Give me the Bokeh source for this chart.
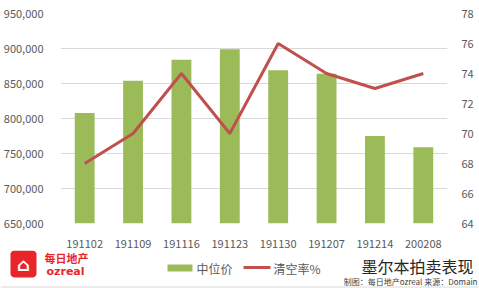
import numpy as np
from bokeh.plotting import figure
from bokeh.layouts import column
from bokeh.models import (Range1d, LinearAxis, FactorRange, NumeralTickFormatter,
                          FixedTicker, ColumnDataSource)
from bokeh.embed import file_html
from bokeh.resources import INLINE
from bokeh.core.properties import value

weeks = ["191102", "191109", "191116", "191123", "191130", "191207", "191214", "200208"]
median_price = [808000, 854000, 884000, 899000, 869000, 864000, 775000, 759000]
clearance_rate = [68, 70, 74, 70, 76, 74, 73, 74]
left_ticks = [650000, 700000, 750000, 800000, 850000, 900000, 950000]
right_ticks = [64, 66, 68, 70, 72, 74, 76, 78]
series_names = ["中位价", "清空率%"]
title_text = "墨尔本拍卖表现"
source_text = "制图：每日地产ozreal 来源：Domain"

FONT = "Noto Sans CJK SC"
GREY = "#595959"
GREEN = "#9bbb59"
RED = "#c0504d"

src = ColumnDataSource(dict(week=weeks, price=median_price, rate=clearance_rate))

p = figure(width=479, height=250, x_range=FactorRange(*weeks),
           y_range=Range1d(650000, 950000), output_backend="svg",
           toolbar_location=None, min_border_left=58, min_border_right=32,
           min_border_top=13, min_border_bottom=25)
p.extra_y_ranges = {"rate": Range1d(64, 78)}

p.vbar(x="week", top="price", bottom=650000, width=0.41, source=src,
       color=GREEN, line_color=None)
p.line(x="week", y="rate", y_range_name="rate", source=src,
       line_color=RED, line_width=3)

p.outline_line_color = None
p.xgrid.grid_line_color = None
p.ygrid.grid_line_color = "#d9d9d9"
p.ygrid.ticker = FixedTicker(ticks=left_ticks)

def style(ax):
    ax.axis_line_color = None
    ax.major_tick_line_color = None
    ax.minor_tick_line_color = None
    ax.major_label_text_font = FONT
    ax.major_label_text_font_size = "11px"
    ax.major_label_text_color = GREY

style(p.xaxis[0])
p.xaxis[0].major_label_standoff = 10
yl = p.yaxis[0]
style(yl)
yl.ticker = FixedTicker(ticks=left_ticks)
yl.formatter = NumeralTickFormatter(format="0,0")
yl.major_label_standoff = 11

yr = LinearAxis(y_range_name="rate", ticker=FixedTicker(ticks=right_ticks))
style(yr)
yr.major_label_standoff = 8
p.add_layout(yr, "right")

# footer: a pixel-coordinate canvas (x right, y down) below the chart
f = figure(width=479, height=38, x_range=Range1d(0, 479), y_range=Range1d(288, 250),
           output_backend="svg", toolbar_location=None, min_border=0,
           min_border_left=0, min_border_right=0, min_border_top=0, min_border_bottom=0)
f.axis.visible = False
f.grid.grid_line_color = None
f.outline_line_color = None

for fig in (p, f):
    if "frame_align" in fig.properties():
        fig.frame_align = False

# legend
f.quad(left=167, right=192, top=264, bottom=271, color=GREEN, line_color=None)
f.text(x=196, y=268, text=[series_names[0]], text_font=value(FONT), text_font_size="12px",
       text_color=GREY, text_baseline="middle")
f.line(x=[243, 270], y=[267, 267], line_color=RED, line_width=3)
f.text(x=273, y=268, text=[series_names[1]], text_font=value(FONT), text_font_size="12px",
       text_color=GREY, text_baseline="middle")

# logo: rounded red square
def rounded(l, t, r, b, rad):
    pts = []
    for cx, cy, a0 in [(r - rad, t + rad, -90), (r - rad, b - rad, 0),
                       (l + rad, b - rad, 90), (l + rad, t + rad, 180)]:
        for a in np.linspace(a0, a0 + 90, 6):
            pts.append((cx + rad * np.cos(np.radians(a)), cy + rad * np.sin(np.radians(a))))
    return [q[0] for q in pts], [q[1] for q in pts]

lx, ly = rounded(10, 250, 36, 277, 4)
f.patch(lx, ly, color="#e8262a", line_color=None)
f.text(x=23, y=264, text=["⌂"], text_font=value("DejaVu Sans"), text_font_size="18px",
       text_color="white", text_align="center", text_baseline="middle", text_font_style="bold")
f.text(x=44, y=257, text=["每日地产"], text_font=value(FONT), text_font_size="11px",
       text_color="#e8262a", text_font_style="bold", text_baseline="middle")
f.text(x=46, y=271, text=["ozreal"], text_font=value("DejaVu Sans"), text_font_size="11px",
       text_color="#e8262a", text_font_style="bold", text_baseline="middle")

# title & source
f.text(x=473, y=265, text=[title_text], text_font=value(FONT), text_font_size="16px",
       text_color="#262626", text_align="right", text_baseline="middle")
f.text(x=477, y=281, text=[source_text], text_font=value(FONT), text_font_size="8px",
       text_color="#404040", text_align="right", text_baseline="middle")

# bottom rule
f.line(x=[0, 479], y=[286.5, 286.5], line_color="#d9d9d9", line_width=1)

layout = column(p, f, spacing=0)
open("out.html", "w").write(file_html(layout, INLINE))
